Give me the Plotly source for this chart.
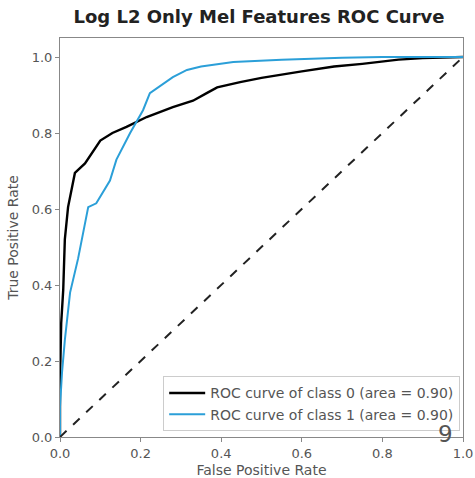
import plotly.graph_objects as go

title = "Log L2 Only Mel Features ROC Curve"
x_title = "False Positive Rate"
y_title = "True Positive Rate"

fpr0 = [0.0, 0.0, 0.003, 0.008, 0.012, 0.02, 0.037, 0.062, 0.1, 0.13, 0.165, 0.215, 0.28, 0.33, 0.364, 0.39, 0.447, 0.5, 0.6, 0.68, 0.75, 0.84, 0.9, 1.0]
tpr0 = [0.0, 0.15, 0.3, 0.387, 0.52, 0.605, 0.695, 0.72, 0.78, 0.80, 0.816, 0.842, 0.868, 0.885, 0.905, 0.92, 0.934, 0.945, 0.962, 0.975, 0.982, 0.993, 0.997, 1.0]

fpr1 = [0.0, 0.0, 0.005, 0.012, 0.025, 0.045, 0.07, 0.09, 0.124, 0.14, 0.174, 0.206, 0.223, 0.28, 0.315, 0.35, 0.43, 0.55, 0.7, 0.8, 1.0]
tpr1 = [0.0, 0.08, 0.17, 0.255, 0.38, 0.47, 0.605, 0.615, 0.675, 0.73, 0.80, 0.86, 0.905, 0.947, 0.966, 0.975, 0.987, 0.993, 0.998, 1.0, 1.0]

labels = ["ROC curve of class 0 (area = 0.90)", "ROC curve of class 1 (area = 0.90)"]
colors = ["#000000", "#2b9fd8"]
diag = [0.0, 1.0]
x_ticks = [0.0, 0.2, 0.4, 0.6, 0.8, 1.0]
y_ticks = [0.0, 0.2, 0.4, 0.6, 0.8, 1.0]

fig = go.Figure()
fig.add_trace(go.Scatter(x=fpr0, y=tpr0, mode="lines", name=labels[0],
                         line=dict(color=colors[0], width=2.4)))
fig.add_trace(go.Scatter(x=fpr1, y=tpr1, mode="lines", name=labels[1],
                         line=dict(color=colors[1], width=2)))
fig.add_trace(go.Scatter(x=diag, y=diag, mode="lines", showlegend=False,
                         line=dict(color="#222222", width=2, dash="dash")))

axis_common = dict(showgrid=False, zeroline=False, showline=True, mirror=True,
                   linecolor="#888888", linewidth=1, ticks="outside", ticklen=4,
                   tickcolor="#888888", tickformat=".1f", automargin=False,
                   tickfont=dict(family="DejaVu Sans", size=13, color="#555555"))

fig.update_layout(
    width=475, height=478,
    margin=dict(l=60, r=12, t=38, b=41),
    paper_bgcolor="white", plot_bgcolor="white",
    title=dict(text="<b>" + title + "</b>", x=259 / 475, xanchor="center",
               y=1 - 17 / 478, yanchor="middle",
               font=dict(family="DejaVu Sans", size=18, color="#222222")),
    xaxis=dict(range=[0, 1], tickvals=x_ticks, **axis_common,
               title=dict(text=x_title, standoff=10,
                          font=dict(family="DejaVu Sans", size=14, color="#555555"))),
    yaxis=dict(range=[0, 1.05], tickvals=y_ticks, **axis_common,
               title=dict(text=y_title, standoff=9,
                          font=dict(family="DejaVu Sans", size=14, color="#555555"))),
    legend=dict(x=0.993, y=0.014, xanchor="right", yanchor="bottom",
                bgcolor="white", bordercolor="#cccccc", borderwidth=1,
                font=dict(family="DejaVu Sans", size=14, color="#555555"),
                itemwidth=36, tracegroupgap=0),
    annotations=[dict(text="9", xref="paper", yref="paper", x=(445 - 60) / 403,
                      y=(437 - 434) / 399, xanchor="center", yanchor="middle",
                      showarrow=False,
                      font=dict(family="DejaVu Sans", size=23, color="#555555"))],
)

fig.write_html("out.html")
